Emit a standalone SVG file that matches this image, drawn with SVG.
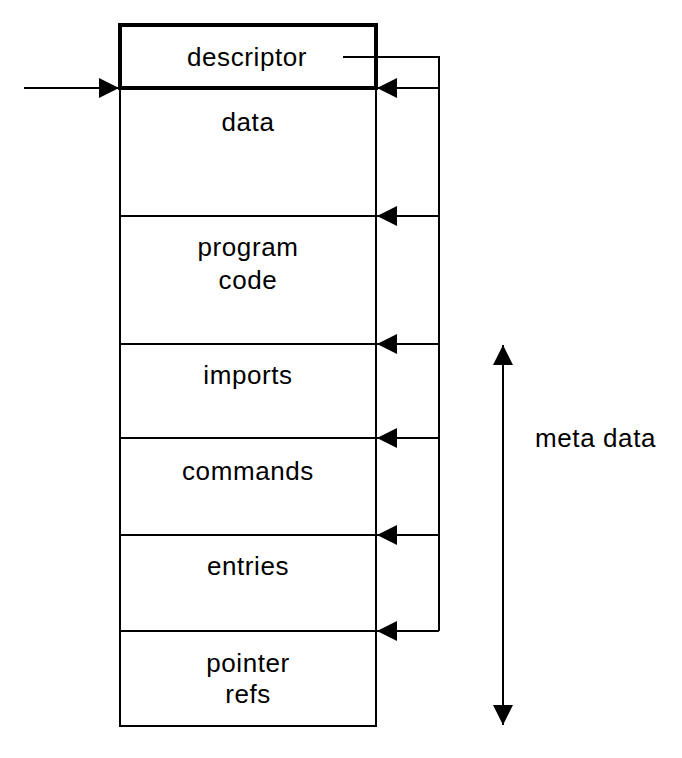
<svg xmlns="http://www.w3.org/2000/svg" width="682" height="758" viewBox="0 0 682 758">
<style>
.box{fill:none;stroke:#000;stroke-width:2}
.thick{fill:#fff;stroke:#000;stroke-width:4}
.lbl{font-family:"Liberation Sans",Arial,sans-serif;font-size:26px;letter-spacing:0.6px;fill:#000;text-anchor:middle}
.side{font-family:"Liberation Sans",Arial,sans-serif;font-size:26px;letter-spacing:0.6px;fill:#000}
.con{fill:none;stroke:#000;stroke-width:2}
</style>
<defs>
<marker id="ah" markerUnits="userSpaceOnUse" markerWidth="20" markerHeight="20" viewBox="0 0 20 20" refX="20" refY="10" orient="auto">
<path d="M0,0 L20,10 L0,20 z" fill="#000"/>
</marker>
<marker id="ahs" markerUnits="userSpaceOnUse" markerWidth="20" markerHeight="20" viewBox="0 0 20 20" refX="0" refY="10" orient="auto">
<path d="M20,0 L0,10 L20,20 z" fill="#000"/>
</marker>
</defs>
<rect width="682" height="758" fill="#fff"/>
<g id="data"><rect class="box" x="120" y="88" width="256" height="128"/><text class="lbl" x="248" y="131">data</text></g>
<g id="program-code"><rect class="box" x="120" y="216" width="256" height="128"/><text class="lbl" x="248" y="256">program</text><text class="lbl" x="248" y="289">code</text></g>
<g id="imports"><rect class="box" x="120" y="344" width="256" height="94"/><text class="lbl" x="248" y="384">imports</text></g>
<g id="commands"><rect class="box" x="120" y="438" width="256" height="97"/><text class="lbl" x="248" y="480">commands</text></g>
<g id="entries"><rect class="box" x="120" y="535" width="256" height="96"/><text class="lbl" x="248" y="575">entries</text></g>
<g id="pointer-refs"><rect class="box" x="120" y="631" width="256" height="95"/><text class="lbl" x="248" y="672">pointer</text><text class="lbl" x="248" y="703">refs</text></g>
<g id="descriptor"><rect class="thick" x="120" y="25" width="256" height="63"/><text class="lbl" x="247" y="66">descriptor</text></g>
<g id="meta-data"><text class="side" x="535" y="447">meta data</text></g>
<g id="connectors">
<path class="con" d="M343,57 H439 V631"/>
<line class="con" x1="439" y1="88" x2="377" y2="88" marker-end="url(#ah)"/>
<line class="con" x1="439" y1="216" x2="377" y2="216" marker-end="url(#ah)"/>
<line class="con" x1="439" y1="344" x2="377" y2="344" marker-end="url(#ah)"/>
<line class="con" x1="439" y1="438" x2="377" y2="438" marker-end="url(#ah)"/>
<line class="con" x1="439" y1="535" x2="377" y2="535" marker-end="url(#ah)"/>
<line class="con" x1="439" y1="631" x2="377" y2="631" marker-end="url(#ah)"/>
<line class="con" x1="24" y1="88" x2="119" y2="88" marker-end="url(#ah)"/>
<line class="con" x1="503" y1="345" x2="503" y2="725" marker-start="url(#ahs)" marker-end="url(#ah)"/>
</g>
</svg>
